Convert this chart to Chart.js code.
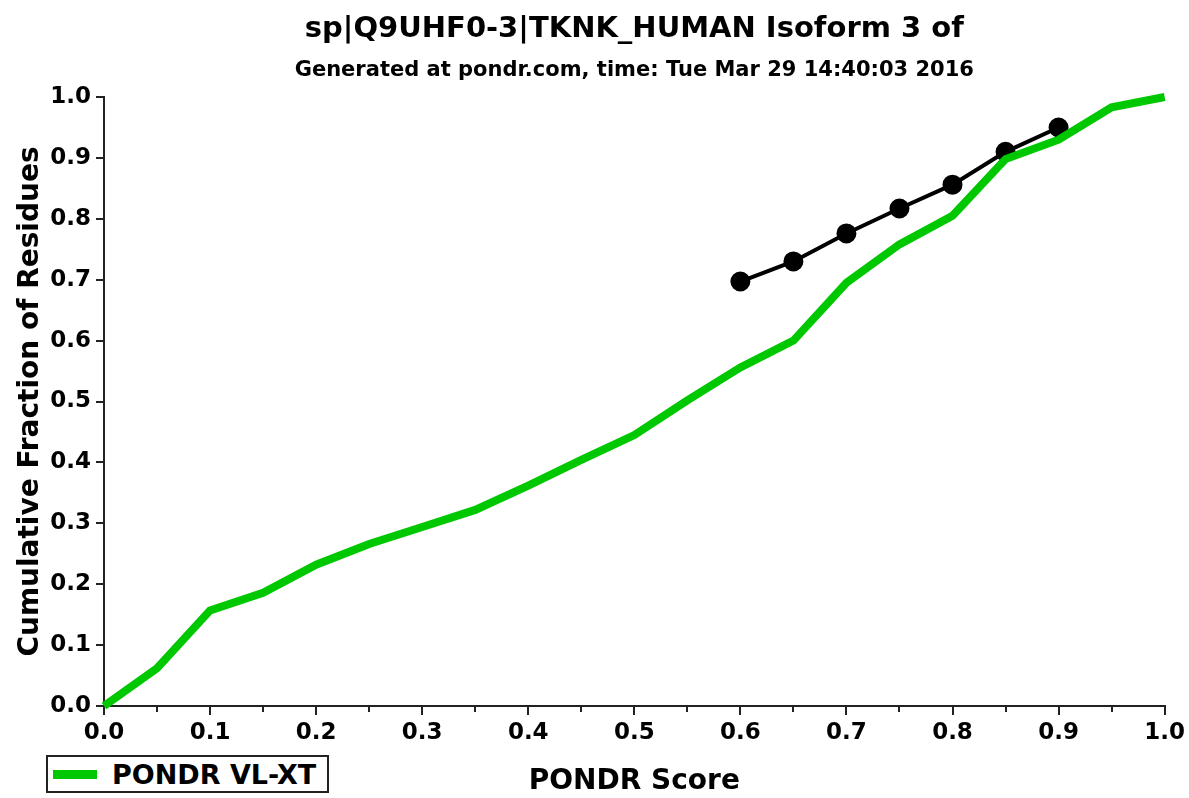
<!DOCTYPE html>
<html>
<head>
<meta charset="utf-8">
<script src="https://cdn.jsdelivr.net/npm/chart.js@4/dist/chart.umd.min.js"></script>
<style>
  body { margin: 0; background: #fff; }
  #wrap { position: relative; width: 1189px; height: 798px; }
  #legende {
    position: absolute; left: 46px; top: 755px; width: 283px; height: 38px;
    box-sizing: border-box; border: 2px solid #222; background: #fff;
    font: bold 27px "DejaVu Sans", sans-serif; color: #000;
    display: flex; align-items: center; white-space: nowrap;
  }
  #legende .trait { display: inline-block; width: 44px; height: 9px; background: #00c800; margin: 0 15px 0 5px; }
</style>
</head>
<body>
<div id="wrap">
  <canvas id="graphique" width="1189" height="798"></canvas>
  <div id="legende"><span class="trait"></span><span>PONDR VL-XT</span></div>
</div>
<script>
// PONDR VL-XT cumulative distribution
var scoresVL = [0.0, 0.05, 0.1, 0.15, 0.2, 0.25, 0.3, 0.35, 0.4, 0.45, 0.5,
                0.55, 0.6, 0.65, 0.7, 0.75, 0.8, 0.85, 0.9, 0.95, 1.0];
var fractionVL = [0.0, 0.062, 0.157, 0.186, 0.232, 0.266, 0.294, 0.322, 0.362, 0.404, 0.445,
                  0.502, 0.556, 0.600, 0.695, 0.758, 0.805, 0.898, 0.930, 0.983, 1.0];

// black reference curve
var scoresRef = [0.6, 0.65, 0.7, 0.75, 0.8, 0.85, 0.9];
var fractionRef = [0.697, 0.730, 0.776, 0.817, 0.856, 0.910, 0.950];

// minor ticks on the x axis (between the labelled ones)
var minorX = [0.05, 0.15, 0.25, 0.35, 0.45, 0.55, 0.65, 0.75, 0.85, 0.95];

var titre = 'sp|Q9UHF0-3|TKNK_HUMAN Isoform 3 of';
var sousTitre = 'Generated at pondr.com, time: Tue Mar 29 14:40:03 2016';

function points(xs, ys) {
    let res = [];
    for (let i = 0; i < xs.length; i++) {
        res.push({x: xs[i], y: ys[i]});
    }
    return res;
}

// short ticks for the minor x values
var petitesGraduations = {
    id: 'petitesGraduations',
    afterDraw(chart) {
        let c = chart.ctx;
        let sx = chart.scales.x;
        c.save();
        c.strokeStyle = '#222';
        c.lineWidth = 2;
        c.beginPath();
        for (let i = 0; i < minorX.length; i++) {
            let px = Math.round(sx.getPixelForValue(minorX[i]));
            c.moveTo(px, sx.top);
            c.lineTo(px, sx.top + 6);
        }
        c.stroke();
        c.restore();
    }
};

var police = '"DejaVu Sans", sans-serif';
var ctx = document.getElementById("graphique").getContext("2d");

var myChart = new Chart(ctx, {
    type: 'line',
    data: {
        datasets: [{
            label: 'PONDR VL-XT',
            data: points(scoresVL, fractionVL),
            borderColor: '#00c800',
            borderWidth: 8,
            pointRadius: 0,
            tension: 0,
            clip: false,
            order: 1
        }, {
            label: 'ref',
            data: points(scoresRef, fractionRef),
            borderColor: '#000',
            backgroundColor: '#000',
            borderWidth: 4,
            pointRadius: 8,
            pointHoverRadius: 8,
            tension: 0,
            order: 2
        }]
    },
    options: {
        responsive: false,
        animation: false,
        events: [],
        layout: { padding: { left: 8, right: 24, top: 9, bottom: 0 } },
        plugins: {
            legend: { display: false },
            tooltip: { enabled: false },
            title: {
                display: true,
                text: titre,
                fullSize: false,
                color: '#000',
                font: { family: police, size: 29, weight: 'bold' },
                padding: { top: 3, bottom: 11 }
            },
            subtitle: {
                display: true,
                text: sousTitre,
                fullSize: false,
                color: '#000',
                font: { family: police, size: 21, weight: 'bold' },
                padding: { top: 0, bottom: 14 }
            }
        },
        scales: {
            x: {
                type: 'linear',
                min: 0,
                max: 1,
                border: { display: true, color: '#222', width: 2 },
                grid: {
                    drawOnChartArea: false, drawTicks: true, tickLength: 9, lineWidth: 2,
                    tickColor: function(c) { return c.index % 2 === 0 ? '#222' : 'rgba(0,0,0,0)'; }
                },
                ticks: {
                    stepSize: 0.05,
                    autoSkip: false,
                    maxRotation: 0,
                    padding: 4,
                    color: '#000',
                    font: { family: police, size: 23, weight: 'bold' },
                    callback: function(v, i) { return i % 2 === 0 ? v.toFixed(1) : ''; }
                },
                title: {
                    display: true,
                    text: 'PONDR Score',
                    color: '#000',
                    font: { family: police, size: 28, weight: 'bold' },
                    padding: { top: 0, bottom: -1 }
                },
                afterFit: function(scale) { scale.height = 92; }
            },
            y: {
                min: 0,
                max: 1,
                border: { display: true, color: '#222', width: 2 },
                grid: { drawOnChartArea: false, drawTicks: true, tickLength: 8, color: '#222', lineWidth: 2 },
                ticks: {
                    stepSize: 0.1,
                    padding: 5,
                    color: '#000',
                    font: { family: police, size: 23, weight: 'bold' },
                    callback: function(v) { return v.toFixed(1); }
                },
                title: {
                    display: true,
                    text: 'Cumulative Fraction of Residues',
                    color: '#000',
                    font: { family: police, size: 28, weight: 'bold' },
                    padding: { top: 6, bottom: 4 }
                },
                afterFit: function(scale) { scale.width = 96; }
            }
        }
    },
    plugins: [petitesGraduations]
});
</script>
</body>
</html>
